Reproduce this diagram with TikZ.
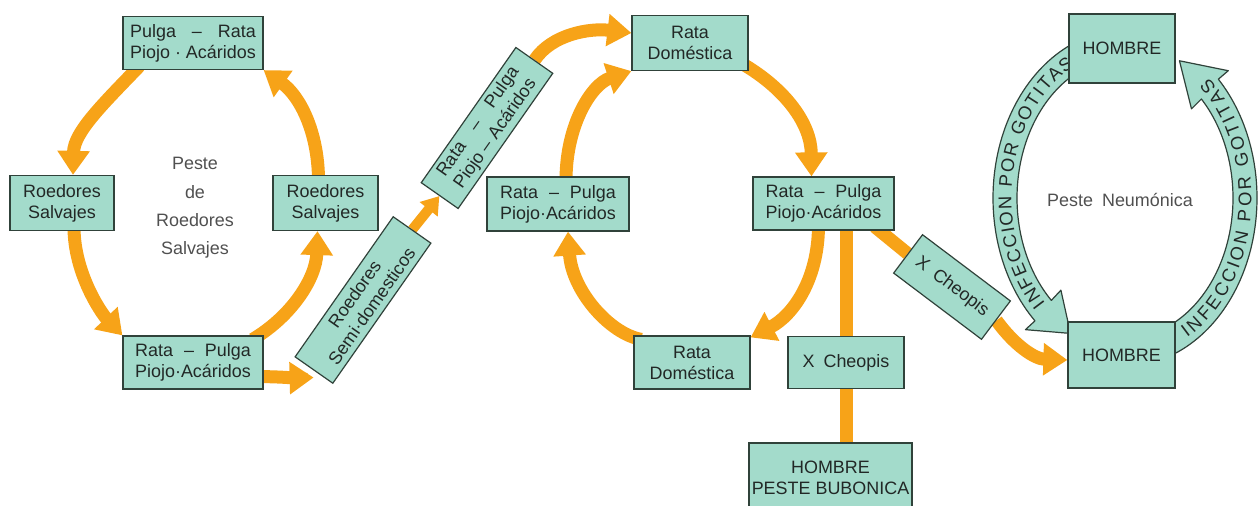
\documentclass[tikz,border=0pt]{standalone}
\usepackage{fontspec}
\setmainfont{Liberation Sans}
\usetikzlibrary{arrows.meta,backgrounds,decorations.text}

\definecolor{boxfill}{RGB}{163,219,203}
\definecolor{boxline}{RGB}{48,66,58}
\definecolor{boxtext}{RGB}{34,40,38}
\definecolor{flea}{RGB}{247,163,24}
\definecolor{softgray}{RGB}{80,80,80}

\newsavebox\linebox
\newcommand{\spreadline}[2]{\sbox\linebox{#2}\makebox[\wd\linebox][s]{#1}\\#2}
\newcommand{\cyclefont}{\fontsize{18}{21}\selectfont}
\newcommand{\arcfont}{\fontsize{18.5}{20}\selectfont\color{boxtext}}

\tikzset{
  cell/.style={draw=boxline, fill=boxfill, line width=1.2bp, text=boxtext,
    align=center, inner sep=2bp, font=\cyclefont},
  flow/.style={draw=flea, line width=13bp, -{Triangle[length=24bp,width=31bp]}},
  thinflow/.style={draw=flea, line width=10bp, -{Triangle[length=17bp,width=22bp]}},
  bar/.style={draw=flea, line width=13bp},
  band/.style={draw=boxline, fill=boxfill, line width=1.2bp, line join=round},
  arclabel/.style={decorate, decoration={text along path, text align=fit to path,
    raise=-6.5bp, text={|\arcfont|INFECCION POR GOTITAS}}},
}

\begin{document}
\begin{tikzpicture}[>=latex]
\useasboundingbox (0bp,0bp) rectangle (1259bp,506bp);
%% wild rodents
\node (node_wild_top) at (193bp,463bp) [cell, minimum width=140bp, minimum height=53bp] {\spreadline{Pulga\hfill–\hfill Rata}{Piojo · Acáridos}};
\node (node_wild_left) at (62bp,303bp) [cell, minimum width=104bp, minimum height=55bp] {Roedores\\Salvajes};
\node (node_wild_right) at (325.5bp,303bp) [cell, minimum width=105bp, minimum height=55bp] {Roedores\\Salvajes};
\node (node_wild_bottom) at (193bp,143.5bp) [cell, minimum width=140bp, minimum height=53bp] {\spreadline{Rata\hfill–\hfill Pulga}{Piojo·Acáridos}};
\node (node_wild_label) at (195bp,298bp) [text=softgray, align=center, font=\fontsize{18}{28.5}\selectfont] {Peste\\de\\Roedores\\Salvajes};
\node (node_semi_dom) at (363bp,206bp) [cell, rotate=55, minimum width=171bp, minimum height=46bp] {Roedores\\Semi·domesticos};
\node (node_semi_vec) at (487bp,378bp) [cell, rotate=55, minimum width=165bp, minimum height=45bp] {\spreadline{Rata\hfill–\hfill Pulga}{Piojo – Acáridos}};
%% domestic rats
\node (node_dom_top) at (690bp,463bp) [cell, minimum width=116bp, minimum height=55bp] {Rata\\Doméstica};
\node (node_dom_left) at (558bp,302bp) [cell, minimum width=142bp, minimum height=54bp] {\spreadline{Rata\hfill–\hfill Pulga}{Piojo·Acáridos}};
\node (node_dom_right) at (823.5bp,302.5bp) [cell, minimum width=141bp, minimum height=53bp] {\spreadline{Rata\hfill–\hfill Pulga}{Piojo·Acáridos}};
\node (node_dom_bottom) at (692bp,143.5bp) [cell, minimum width=116bp, minimum height=53bp] {Rata\\Doméstica};
\node (node_cheopis_down) at (846bp,143.5bp) [cell, minimum width=116bp, minimum height=52bp] {X\enspace Cheopis};
\node (node_bubonic) at (830.5bp,28bp) [cell, minimum width=163bp, minimum height=70bp] {HOMBRE\\PESTE BUBONICA};
\node (node_cheopis_tilt) at (952bp,219bp) [cell, rotate=-37, minimum width=110bp, minimum height=48bp] {X\enspace Cheopis};
%% pneumonic
\node (node_man_top) at (1122bp,457.5bp) [cell, minimum width=106bp, minimum height=69bp] {HOMBRE};
\node (node_man_bottom) at (1121.5bp,151bp) [cell, minimum width=107bp, minimum height=66bp] {HOMBRE};
\node (node_pneu_label) at (1120bp,306bp) [text=softgray, font=\cyclefont] {Peste\enspace Neumónica};
%
\begin{scope}[on background layer]
  \draw [flow] ([shift={(17bp,4bp)}]node_wild_top.south west) ..controls (103bp,402bp) and (74bp,374bp) .. ([xshift=11bp]node_wild_left.north);
  \draw [flow] ([shift={(12bp,4bp)}]node_wild_left.south) ..controls (74bp,232bp) and (102bp,192bp) .. (node_wild_bottom.north west);
  \draw [flow] ([shift={(-11bp,-4bp)}]node_wild_bottom.north east) ..controls (292bp,190bp) and (316bp,228bp) .. ([xshift=-8bp]node_wild_right.south);
  \draw [flow] ([shift={(-7bp,-4bp)}]node_wild_right.north) ..controls (318bp,374bp) and (300bp,410bp) .. (node_wild_top.south east);
  \draw [flow] ([shift={(-4bp,-14bp)}]node_wild_bottom.east) ..controls (285bp,129bp) and (295bp,128bp) .. ([yshift=-7bp]node_semi_dom.west);
  \draw [thinflow] (node_semi_dom.east) -- (node_semi_vec.west);
  \draw [flow] (node_semi_vec.east) ..controls (552bp,472bp) and (590bp,478bp) .. ([yshift=10bp]node_dom_top.west);
  \draw [flow] ([shift={(8bp,-4bp)}]node_dom_left.north) ..controls (566bp,382bp) and (592bp,422bp) .. (node_dom_top.south west);
  \draw [flow] ([shift={(-4bp,6bp)}]node_dom_top.south east) ..controls (786bp,416bp) and (811bp,382bp) .. ([xshift=-12bp]node_dom_right.north);
  \draw [flow] ([shift={(-5bp,4bp)}]node_dom_right.south) ..controls (818bp,225bp) and (792bp,190bp) .. ([yshift=-2bp]node_dom_bottom.north east);
  \draw [flow] ([shift={(8bp,-4bp)}]node_dom_bottom.north west) ..controls (610bp,172bp) and (572bp,215bp) .. ([xshift=10bp]node_dom_left.south);
  \draw [bar] (node_cheopis_down.north |- node_dom_right.south) -- (node_cheopis_down.north);
  \draw [bar] (node_cheopis_down.south) -- (node_cheopis_down.south |- node_bubonic.north);
  \draw [bar] ([shift={(-20bp,4bp)}]node_dom_right.south east) -- (node_cheopis_tilt.west);
  \draw [flow] (node_cheopis_tilt.east) ..controls (1015bp,160bp) and (1035bp,147bp) .. ([yshift=-5bp]node_man_bottom.west);
  % droplet bands
  \begin{scope}[shift={(1125bp,308bp)}]
    \draw [band] (112:132bp and 168bp) arc[start angle=112, end angle=227, x radius=132bp, y radius=168bp]
      -- (227:146bp and 180bp) -- (243:120bp and 152bp) -- (227:94bp and 126bp)
      -- (227:108bp and 140bp) arc[start angle=227, end angle=112, x radius=108bp, y radius=140bp] -- cycle;
    \draw [band] (-70:132bp and 168bp) arc[start angle=-70, end angle=45, x radius=132bp, y radius=168bp]
      -- (45:146bp and 180bp) -- (63:120bp and 154bp) -- (45:94bp and 126bp)
      -- (45:108bp and 140bp) arc[start angle=45, end angle=-70, x radius=108bp, y radius=140bp] -- cycle;
    \path [arclabel] (225:120bp and 154bp) arc[start angle=225, end angle=117, x radius=120bp, y radius=154bp];
    \path [arclabel] (-61:120bp and 154bp) arc[start angle=-61, end angle=49, x radius=120bp, y radius=154bp];
  \end{scope}
\end{scope}
%
\end{tikzpicture}
\end{document}
